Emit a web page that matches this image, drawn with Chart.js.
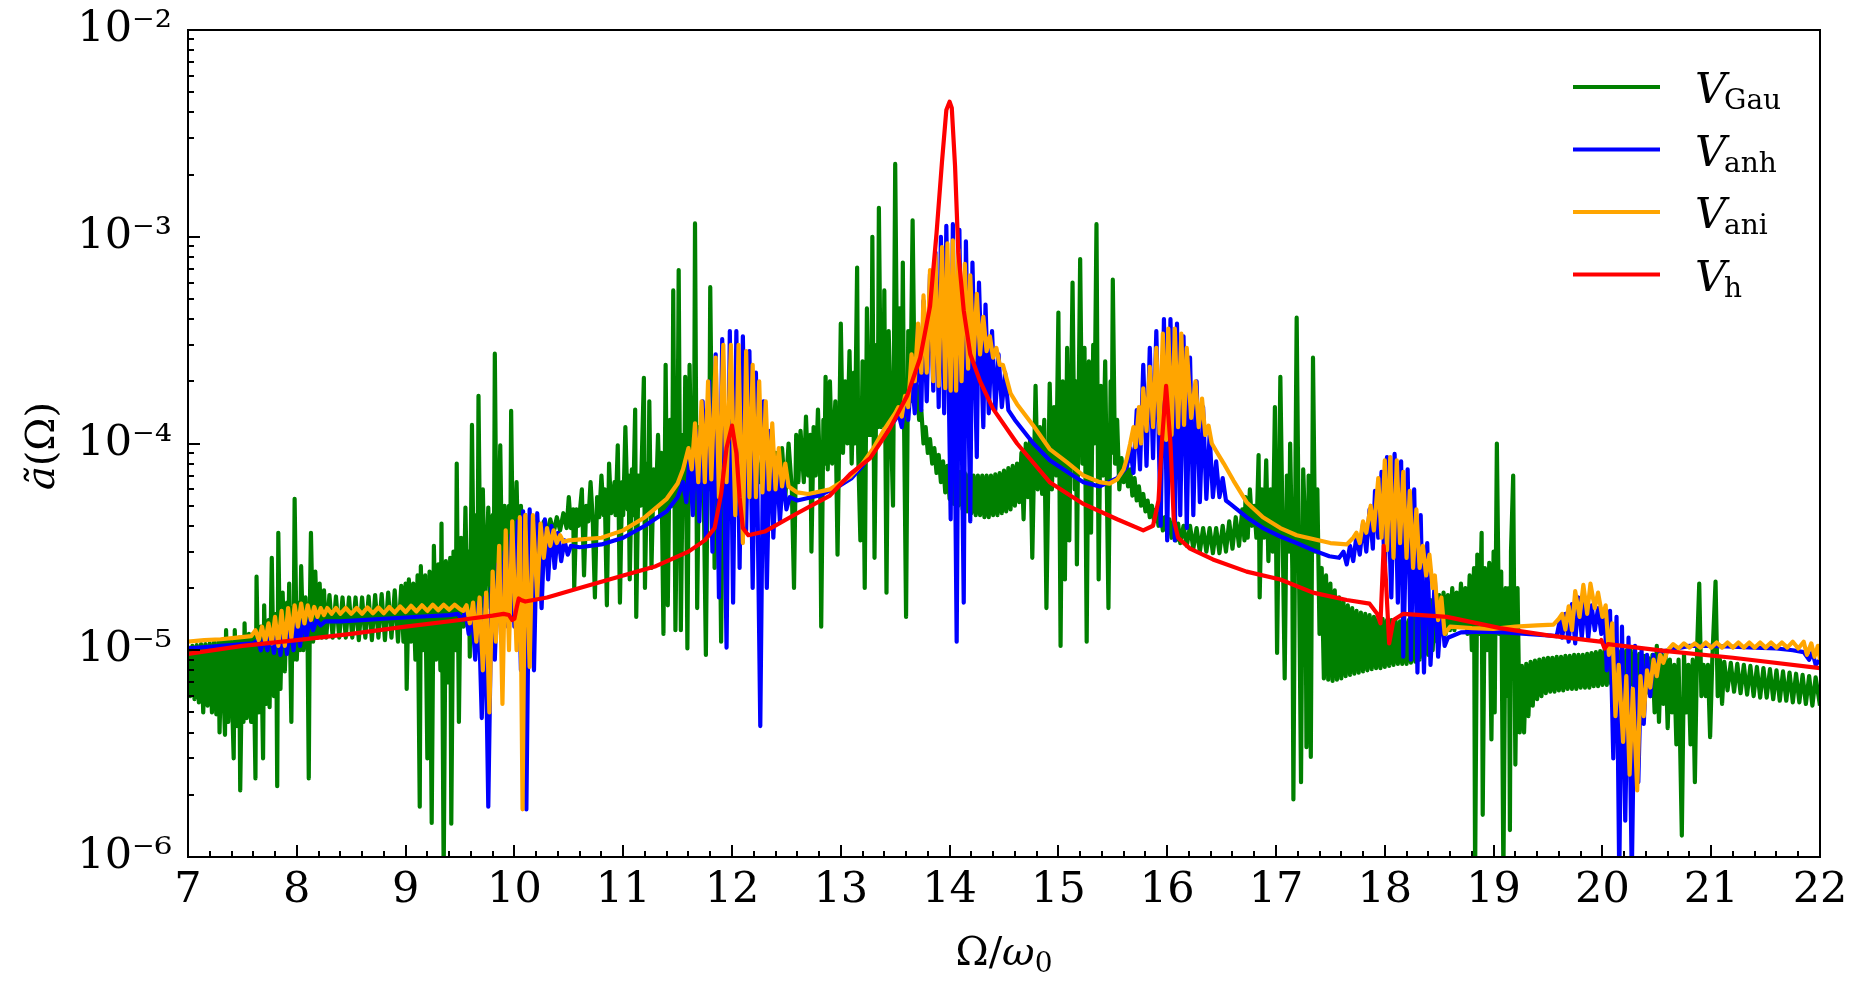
<!DOCTYPE html>
<html><head><meta charset="utf-8">
<script src="https://cdn.jsdelivr.net/npm/chart.js@4.4.1/dist/chart.umd.min.js"></script>
<style>html,body{margin:0;padding:0;background:#fff;}#wrap{width:1861px;height:989px;}</style>
</head><body><div id="wrap"><canvas id="c" width="1861" height="989"></canvas></div>
<script>
// ---------- tick labels / categories ----------
const xMajorTicks = [7,8,9,10,11,12,13,14,15,16,17,18,19,20,21,22];
const xTickLabels = ['7','8','9','10','11','12','13','14','15','16','17','18','19','20','21','22'];
const xMinorPerMajor = 5;
const yMajorTicks = [1e-6,1e-5,1e-4,1e-3,1e-2];
const yTickLabels = ['10\u207B\u2076','10\u207B\u2075','10\u207B\u2074','10\u207B\u00B3','10\u207B\u00B2'];
const seriesBase = 'V';
const seriesSub = ['Gau','anh','ani','h'];
const seriesColors = ['#008000','#0000ff','#ffa500','#ff0000'];

// ---------- series values [Omega/omega0, a(Omega)] ----------
const gauPts = [[7,1.05e-5],[7.02,6e-6],[7.04,1.05e-5],[7.06,5.8e-6],[7.08,1.06e-5],[7.1,5.6e-6],[7.12,1.07e-5],[7.14,5e-6],[7.16,1.07e-5],[7.18,5.4e-6],[7.2,1.08e-5],[7.22,5e-6],[7.24,1.1e-5],[7.26,4.9e-6],[7.28,1.1e-5],[7.29,4e-6],[7.31,1.12e-5],[7.34,3.9e-6],[7.35,1.25e-5],[7.37,4.5e-6],[7.39,1.12e-5],[7.42,3e-6],[7.43,1.25e-5],[7.45,4.3e-6],[7.47,1.15e-5],[7.48,2.1e-6],[7.5,1.15e-5],[7.51,4.5e-6],[7.52,1.35e-5],[7.54,4.7e-6],[7.56,1.2e-5],[7.58,4.5e-6],[7.6,1.2e-5],[7.62,2.4e-6],[7.63,2.27e-5],[7.65,5e-6],[7.67,1.3e-5],[7.69,3e-6],[7.7,1.65e-5],[7.72,5.5e-6],[7.74,1.4e-5],[7.75,5.3e-6],[7.77,2.8e-5],[7.79,6e-6],[7.81,1.5e-5],[7.82,2.2e-6],[7.83,3.7e-5],[7.85,6.5e-6],[7.87,1.9e-5],[7.89,7.9e-6],[7.91,1.7e-5],[7.92,1.1e-5],[7.93,2.1e-5],[7.95,4.5e-6],[7.96,1.6e-5],[7.97,9e-6],[7.98,5.4e-5],[8,9e-6],[8.02,1.7e-5],[8.03,1e-5],[8.04,2.55e-5],[8.06,1e-5],[8.08,1.8e-5],[8.1,1e-5],[8.11,2.4e-6],[8.12,1.6e-5],[8.13,3.7e-5],[8.15,1.1e-5],[8.17,2.4e-5],[8.19,1.15e-5],[8.21,2.1e-5],[8.23,1.15e-5],[8.25,1.95e-5],[8.27,1.15e-5],[8.3,1.85e-5],[8.33,1.15e-5],[8.36,1.82e-5],[8.39,1.15e-5],[8.42,1.8e-5],[8.45,1.15e-5],[8.48,1.8e-5],[8.51,1.15e-5],[8.54,1.8e-5],[8.57,1.12e-5],[8.6,1.8e-5],[8.63,1.15e-5],[8.66,1.82e-5],[8.69,1.12e-5],[8.72,1.85e-5],[8.75,1.15e-5],[8.78,1.87e-5],[8.81,1.12e-5],[8.84,1.9e-5],[8.87,1.15e-5],[8.9,1.95e-5],[8.93,1.1e-5],[8.96,2.05e-5],[8.98,1.1e-5],[9,2.1e-5],[9.01,6.5e-6],[9.03,2.2e-5],[9.05,1.1e-5],[9.07,2.1e-5],[9.09,9e-6],[9.11,2.3e-5],[9.13,1.75e-6],[9.14,2.55e-5],[9.16,1e-5],[9.18,2.3e-5],[9.2,3e-6],[9.22,2.4e-5],[9.24,1.46e-6],[9.26,3.2e-5],[9.28,9e-6],[9.3,2.6e-5],[9.32,8e-6],[9.33,4.1e-5],[9.35,8e-7],[9.37,2.7e-5],[9.39,7e-6],[9.41,2.8e-5],[9.42,1.45e-6],[9.44,3e-5],[9.46,1e-5],[9.47,8e-5],[9.49,4.5e-6],[9.51,3.5e-5],[9.53,1.3e-5],[9.55,4.9e-5],[9.57,1.3e-5],[9.58,3e-5],[9.59,9.3e-6],[9.61,1.23e-4],[9.63,1.4e-5],[9.65,4.5e-5],[9.66,1.5e-5],[9.67,1.7e-4],[9.69,1.5e-5],[9.71,6e-5],[9.73,1.6e-5],[9.76,4.9e-5],[9.78,1.6e-5],[9.8,4.5e-5],[9.81,1.7e-5],[9.82,2.72e-4],[9.84,1.7e-5],[9.87,9.8e-5],[9.89,1.7e-5],[9.91,5e-5],[9.93,1.8e-5],[9.95,5e-5],[9.96,2e-5],[9.97,1.44e-4],[9.99,2e-5],[10.02,6.5e-5],[10.04,2.2e-5],[10.06,5e-5],[10.08,2.5e-5],[10.1,4.5e-5],[10.12,3.2e-5],[10.15,4.4e-5],[10.18,3.5e-5],[10.21,4.2e-5],[10.24,3.6e-5],[10.27,4.2e-5],[10.3,3.7e-5],[10.33,4.3e-5],[10.36,3.7e-5],[10.39,4.4e-5],[10.42,3.8e-5],[10.45,4.6e-5],[10.48,3.9e-5],[10.5,5.5e-5],[10.52,3.9e-5],[10.54,4.8e-5],[10.55,2e-5],[10.57,4.8e-5],[10.59,4e-5],[10.62,6e-5],[10.64,2.3e-5],[10.66,5e-5],[10.68,4.2e-5],[10.7,6.5e-5],[10.72,4.3e-5],[10.74,1.8e-5],[10.76,5.5e-5],[10.78,4.4e-5],[10.8,7e-5],[10.82,4.5e-5],[10.83,6e-5],[10.85,1.65e-5],[10.87,8e-5],[10.89,4.6e-5],[10.92,6.5e-5],[10.93,4.5e-5],[10.95,9.8e-5],[10.97,1.7e-5],[10.99,6.5e-5],[11,4.5e-5],[11.02,1.2e-4],[11.04,4.8e-5],[11.05,7e-5],[11.06,2.2e-5],[11.08,7.5e-5],[11.09,4.5e-5],[11.11,1.46e-4],[11.12,1.45e-5],[11.14,7e-5],[11.16,5e-5],[11.19,2.08e-4],[11.2,2e-5],[11.22,8e-5],[11.23,4.5e-5],[11.24,1.6e-4],[11.26,2.5e-5],[11.28,7.5e-5],[11.3,5e-5],[11.32,1.1e-4],[11.34,4.5e-5],[11.35,9e-5],[11.37,1.2e-5],[11.39,2.4e-4],[11.41,1.65e-5],[11.43,1.3e-4],[11.45,5e-5],[11.46,5.5e-4],[11.48,1.25e-5],[11.5,1e-4],[11.51,6.9e-4],[11.53,1.25e-5],[11.55,1.1e-4],[11.56,5e-5],[11.57,2.1e-4],[11.59,1.02e-5],[11.61,2.4e-4],[11.63,5.5e-5],[11.64,1.3e-4],[11.65,6e-5],[11.66,1.16e-3],[11.68,1.6e-5],[11.7,1.2e-4],[11.71,6e-5],[11.73,1.46e-4],[11.76,9.5e-6],[11.78,1.3e-4],[11.79,6e-5],[11.8,5.7e-4],[11.82,6e-5],[11.83,1.2e-4],[11.84,2.5e-5],[11.86,1.3e-4],[11.87,7e-5],[11.88,1e-4],[11.9,1.1e-5],[11.92,1.1e-4],[11.95,6e-5],[11.98,1e-4],[12.01,6.5e-5],[12.04,1e-4],[12.07,6.5e-5],[12.1,9.5e-5],[12.13,6.5e-5],[12.16,9.5e-5],[12.19,6.5e-5],[12.22,9e-5],[12.25,6.5e-5],[12.28,9e-5],[12.31,6.3e-5],[12.34,8.8e-5],[12.37,6e-5],[12.4,9e-5],[12.43,6e-5],[12.46,9.5e-5],[12.49,5.5e-5],[12.52,1e-4],[12.55,6e-5],[12.57,2e-5],[12.59,1.1e-4],[12.61,6.5e-5],[12.63,1.15e-4],[12.66,6.5e-5],[12.68,1.35e-4],[12.7,7e-5],[12.72,1.1e-4],[12.73,3e-5],[12.75,1.2e-4],[12.77,7e-5],[12.79,1.46e-4],[12.81,7e-5],[12.82,1.3e-5],[12.84,1.3e-4],[12.85,8e-5],[12.86,2.1e-4],[12.88,7.5e-5],[12.9,2e-4],[12.92,8e-5],[12.95,1.6e-4],[12.97,2.9e-5],[13,3.8e-4],[13.02,9e-5],[13.04,2e-4],[13.06,1e-4],[13.08,2.8e-4],[13.1,8e-5],[13.12,2.2e-4],[13.13,1e-4],[13.15,7.1e-4],[13.16,9e-5],[13.18,3.4e-5],[13.2,2.5e-4],[13.22,2e-5],[13.24,4.5e-4],[13.26,1.1e-4],[13.27,2.5e-4],[13.28,1.1e-4],[13.29,1e-3],[13.31,2.8e-5],[13.33,3e-4],[13.34,1.2e-4],[13.35,1.38e-3],[13.37,1.2e-4],[13.38,3e-4],[13.39,1.3e-4],[13.4,5.5e-4],[13.42,1.9e-5],[13.44,3.5e-4],[13.46,1.3e-4],[13.48,5e-5],[13.5,2.25e-3],[13.52,1.5e-4],[13.54,4.5e-4],[13.56,1.4e-4],[13.57,7.5e-4],[13.58,1.5e-4],[13.6,1.45e-5],[13.62,3.5e-4],[13.64,1.6e-4],[13.66,1.2e-3],[13.68,1.6e-4],[13.7,1.9e-4],[13.72,1.3e-4],[13.74,1.45e-4],[13.76,1e-4],[13.78,1.2e-4],[13.8,9e-5],[13.82,1.05e-4],[13.84,8e-5],[13.86,9.5e-5],[13.88,7.2e-5],[13.9,8.8e-5],[13.92,6.5e-5],[13.94,8.2e-5],[13.96,5.8e-5],[13.98,7.8e-5],[14,5.4e-5],[14.02,7.6e-5],[14.04,5.1e-5],[14.06,7.4e-5],[14.08,5e-5],[14.1,7.3e-5],[14.12,4.8e-5],[14.14,7.2e-5],[14.16,4.7e-5],[14.18,7.1e-5],[14.2,4.6e-5],[14.22,7e-5],[14.24,4.5e-5],[14.26,7e-5],[14.28,4.5e-5],[14.3,7e-5],[14.32,4.4e-5],[14.34,7e-5],[14.36,4.4e-5],[14.38,7e-5],[14.4,4.5e-5],[14.42,7.1e-5],[14.44,4.5e-5],[14.46,7.2e-5],[14.48,4.6e-5],[14.5,7.4e-5],[14.52,4.7e-5],[14.54,7.6e-5],[14.56,4.8e-5],[14.58,7.8e-5],[14.6,5e-5],[14.62,8e-5],[14.64,5.2e-5],[14.66,9e-5],[14.68,4.3e-5],[14.7,1e-4],[14.72,5.5e-5],[14.74,1.05e-4],[14.76,2.8e-5],[14.79,1.9e-4],[14.81,6e-5],[14.83,1.2e-4],[14.85,5.7e-5],[14.87,1.3e-4],[14.89,1.6e-5],[14.92,1.95e-4],[14.94,6e-5],[14.96,1.5e-4],[14.98,7e-5],[15,4.3e-4],[15.02,1.05e-5],[15.04,2e-4],[15.06,2.2e-5],[15.08,2.9e-4],[15.1,3.4e-5],[15.13,6e-4],[15.15,6e-5],[15.16,2e-4],[15.17,2.6e-5],[15.2,7.8e-4],[15.22,8e-5],[15.24,2.9e-4],[15.26,1.1e-5],[15.28,2.5e-4],[15.3,3.7e-5],[15.32,3e-4],[15.33,1e-4],[15.35,1.15e-3],[15.37,2.2e-5],[15.39,1.9e-4],[15.41,7e-5],[15.43,2.5e-4],[15.46,1.6e-5],[15.48,2e-4],[15.49,9e-5],[15.5,6.2e-4],[15.52,8e-5],[15.54,1.3e-4],[15.56,6e-5],[15.58,8.5e-5],[15.6,6.5e-5],[15.62,8e-5],[15.64,6.2e-5],[15.66,7.5e-5],[15.68,5.6e-5],[15.7,6.8e-5],[15.72,5.3e-5],[15.74,6.2e-5],[15.76,5e-5],[15.78,5.7e-5],[15.8,4.7e-5],[15.82,5.3e-5],[15.84,4.4e-5],[15.86,5e-5],[15.88,4.2e-5],[15.9,4.8e-5],[15.92,4e-5],[15.94,4.6e-5],[15.96,3.8e-5],[15.98,4.4e-5],[16,3.7e-5],[16.02,4.3e-5],[16.04,3.5e-5],[16.06,4.2e-5],[16.08,3.4e-5],[16.1,4.1e-5],[16.12,3.3e-5],[16.15,4e-5],[16.18,3.2e-5],[16.21,4e-5],[16.24,3.1e-5],[16.27,3.9e-5],[16.3,3e-5],[16.33,3.9e-5],[16.36,3e-5],[16.39,3.9e-5],[16.42,2.95e-5],[16.45,3.9e-5],[16.48,2.95e-5],[16.51,4e-5],[16.54,3e-5],[16.57,4.2e-5],[16.6,3.1e-5],[16.63,4.4e-5],[16.66,3.2e-5],[16.69,4.8e-5],[16.71,3.4e-5],[16.72,5.5e-5],[16.74,3.5e-5],[16.76,6e-5],[16.78,4e-5],[16.8,5e-5],[16.82,3.5e-5],[16.84,8.8e-5],[16.85,1.8e-5],[16.87,6e-5],[16.89,3.5e-5],[16.91,8.3e-5],[16.93,2.7e-5],[16.95,6e-5],[16.97,3e-5],[16.99,1.5e-4],[17.01,9.7e-6],[17.04,2.1e-4],[17.06,4e-5],[17.08,7.3e-6],[17.1,7e-5],[17.12,3e-5],[17.13,1e-4],[17.15,2.5e-5],[17.16,1.9e-6],[17.18,9e-5],[17.19,4.06e-4],[17.21,3e-5],[17.23,2.3e-6],[17.25,7.5e-5],[17.27,3.5e-5],[17.28,3.4e-6],[17.3,7e-5],[17.32,3.05e-6],[17.34,2.6e-4],[17.36,3e-5],[17.38,6e-5],[17.4,1.2e-5],[17.42,2.5e-5],[17.44,7.3e-6],[17.46,2.3e-5],[17.48,7.2e-6],[17.5,2.1e-5],[17.52,7.1e-6],[17.54,1.95e-5],[17.56,7.2e-6],[17.58,1.8e-5],[17.6,7.3e-6],[17.62,1.72e-5],[17.64,7.5e-6],[17.66,1.65e-5],[17.68,7.6e-6],[17.7,1.6e-5],[17.72,7.7e-6],[17.74,1.55e-5],[17.76,7.8e-6],[17.78,1.52e-5],[17.8,7.9e-6],[17.82,1.5e-5],[17.84,8e-6],[17.86,1.48e-5],[17.88,8.1e-6],[17.9,1.45e-5],[17.92,8.2e-6],[17.94,1.43e-5],[17.96,8.2e-6],[17.98,1.42e-5],[18,8.3e-6],[18.02,1.4e-5],[18.04,8.4e-6],[18.06,1.4e-5],[18.08,8.5e-6],[18.1,1.38e-5],[18.12,8.6e-6],[18.14,1.38e-5],[18.16,8.6e-6],[18.18,1.38e-5],[18.2,8.6e-6],[18.22,1.4e-5],[18.24,8.7e-6],[18.26,1.45e-5],[18.28,8.8e-6],[18.3,1.5e-5],[18.32,9e-6],[18.34,1.6e-5],[18.36,9.2e-6],[18.38,1.7e-5],[18.4,9.5e-6],[18.42,1.75e-5],[18.44,1e-5],[18.46,1.8e-5],[18.48,1.1e-5],[18.5,1.85e-5],[18.52,1.2e-5],[18.54,1.9e-5],[18.56,1.2e-5],[18.58,1.85e-5],[18.6,1.25e-5],[18.62,2e-5],[18.64,1.25e-5],[18.66,1.9e-5],[18.68,1.3e-5],[18.7,2.1e-5],[18.72,1.3e-5],[18.74,2e-5],[18.76,1.2e-5],[18.78,2.3e-5],[18.8,1e-5],[18.82,2.5e-5],[18.83,8e-7],[18.85,2.9e-5],[18.87,1.2e-5],[18.89,3.7e-5],[18.9,1.6e-6],[18.92,2.5e-5],[18.94,1e-5],[18.96,2.65e-5],[18.98,3.7e-6],[19,3e-5],[19.01,5e-6],[19.03,1e-4],[19.05,1.2e-5],[19.07,2.4e-5],[19.09,8e-7],[19.11,2e-5],[19.13,6e-6],[19.14,2e-5],[19.15,1.35e-6],[19.16,3e-5],[19.18,7e-5],[19.2,2.8e-6],[19.22,2e-5],[19.24,4e-6],[19.26,8.4e-6],[19.28,4e-6],[19.3,8.6e-6],[19.32,4.8e-6],[19.34,8.8e-6],[19.36,5.4e-6],[19.38,8.9e-6],[19.4,5.8e-6],[19.42,9e-6],[19.44,6e-6],[19.46,9.1e-6],[19.48,6.2e-6],[19.5,9.2e-6],[19.52,6.3e-6],[19.54,9.2e-6],[19.56,6.3e-6],[19.58,9.3e-6],[19.6,6.4e-6],[19.62,9.3e-6],[19.64,6.4e-6],[19.66,9.4e-6],[19.68,6.5e-6],[19.7,9.4e-6],[19.72,6.5e-6],[19.74,9.5e-6],[19.76,6.5e-6],[19.78,9.5e-6],[19.8,6.6e-6],[19.82,9.5e-6],[19.84,6.6e-6],[19.86,9.6e-6],[19.88,6.6e-6],[19.9,9.7e-6],[19.92,6.7e-6],[19.94,9.8e-6],[19.96,6.7e-6],[19.98,9.9e-6],[20,6.8e-6],[20.02,1e-5],[20.04,6.8e-6],[20.06,1e-5],[20.08,6.9e-6],[20.1,1e-5],[20.12,6.9e-6],[20.14,1e-5],[20.16,6.9e-6],[20.18,1e-5],[20.2,6.9e-6],[20.22,1e-5],[20.24,6.9e-6],[20.26,1e-5],[20.28,6.8e-6],[20.3,9.8e-6],[20.32,6.6e-6],[20.34,9.6e-6],[20.36,6.4e-6],[20.38,9.4e-6],[20.4,6.2e-6],[20.42,9.2e-6],[20.44,6e-6],[20.46,9.5e-6],[20.48,5e-6],[20.5,1.05e-5],[20.52,4.5e-6],[20.54,1e-5],[20.56,5.5e-6],[20.58,9.5e-6],[20.6,4.2e-6],[20.62,9e-6],[20.64,5e-6],[20.66,8.5e-6],[20.68,3.5e-6],[20.7,9e-6],[20.73,1.27e-6],[20.75,9.5e-6],[20.77,5e-6],[20.79,8.5e-6],[20.81,3.5e-6],[20.83,9e-6],[20.85,2.3e-6],[20.87,1e-5],[20.89,2.1e-5],[20.91,6e-6],[20.93,8.5e-6],[20.95,6e-6],[20.97,8.5e-6],[20.99,3.8e-6],[21.01,9e-6],[21.04,2.15e-5],[21.06,6e-6],[21.08,9e-6],[21.1,5.5e-6],[21.12,8.8e-6],[21.15,6.4e-6],[21.18,8.7e-6],[21.21,6.3e-6],[21.24,8.6e-6],[21.27,6.2e-6],[21.3,8.5e-6],[21.33,6.1e-6],[21.36,8.4e-6],[21.39,6e-6],[21.42,8.3e-6],[21.45,5.9e-6],[21.48,8.2e-6],[21.51,5.9e-6],[21.54,8.1e-6],[21.57,5.8e-6],[21.6,8e-6],[21.63,5.7e-6],[21.66,7.9e-6],[21.69,5.7e-6],[21.72,7.8e-6],[21.75,5.6e-6],[21.78,7.7e-6],[21.81,5.6e-6],[21.84,7.6e-6],[21.87,5.5e-6],[21.9,7.5e-6],[21.93,5.4e-6],[21.96,7.4e-6],[22,5.4e-6]];

const anhPts = [[7,1.02e-5],[7.1,1.03e-5],[7.2,1.04e-5],[7.3,1.05e-5],[7.4,1.06e-5],[7.5,1.07e-5],[7.6,1.08e-5],[7.64,1.12e-5],[7.67,1e-5],[7.7,1.15e-5],[7.73,1e-5],[7.76,1.2e-5],[7.79,9.7e-6],[7.82,1.25e-5],[7.85,9.5e-6],[7.88,1.3e-5],[7.91,9.6e-6],[7.94,1.35e-5],[7.97,1e-5],[8,1.38e-5],[8.03,1.05e-5],[8.06,1.4e-5],[8.09,1.15e-5],[8.12,1.42e-5],[8.15,1.25e-5],[8.18,1.4e-5],[8.22,1.32e-5],[8.26,1.38e-5],[8.4,1.38e-5],[8.6,1.4e-5],[8.8,1.42e-5],[9,1.44e-5],[9.2,1.46e-5],[9.4,1.48e-5],[9.48,1.5e-5],[9.52,1.4e-5],[9.55,1.55e-5],[9.58,1.2e-5],[9.61,1.55e-5],[9.64,9e-6],[9.67,1.7e-5],[9.7,4.7e-6],[9.73,1.8e-5],[9.76,1.75e-6],[9.79,2e-5],[9.82,9e-6],[9.85,2.6e-5],[9.88,1.1e-5],[9.91,3e-5],[9.94,1.3e-5],[9.97,3.6e-5],[10,1.3e-5],[10.03,4.2e-5],[10.06,8e-6],[10.08,4.7e-5],[10.11,1.7e-6],[10.14,4.8e-5],[10.18,8e-6],[10.21,4.6e-5],[10.25,1.6e-5],[10.28,4.3e-5],[10.31,2.2e-5],[10.34,4e-5],[10.37,2.5e-5],[10.4,3.7e-5],[10.43,2.7e-5],[10.46,3.4e-5],[10.49,2.9e-5],[10.52,3.2e-5],[10.6,3.15e-5],[10.8,3.25e-5],[11,3.5e-5],[11.2,4e-5],[11.4,4.7e-5],[11.5,5.5e-5],[11.55,6.5e-5],[11.58,5.2e-5],[11.61,8.5e-5],[11.64,4.5e-5],[11.67,1.15e-4],[11.7,4.2e-5],[11.73,1.6e-4],[11.76,3.5e-5],[11.79,2e-4],[11.82,3e-5],[11.85,2.7e-4],[11.88,1.8e-5],[11.91,3.2e-4],[11.95,1.03e-5],[11.98,3.5e-4],[12.01,1.7e-5],[12.04,3.5e-4],[12.07,2.5e-5],[12.1,3.3e-4],[12.13,3.8e-5],[12.16,2.8e-4],[12.19,2e-5],[12.22,2.2e-4],[12.26,4.3e-6],[12.29,1.6e-4],[12.32,2e-5],[12.35,1.15e-4],[12.38,3.5e-5],[12.41,8.5e-5],[12.44,4.2e-5],[12.47,7e-5],[12.5,4.8e-5],[12.53,5.5e-5],[12.6,5.3e-5],[12.8,5.6e-5],[13,6.3e-5],[13.1,6.8e-5],[13.2,7.8e-5],[13.3,9.3e-5],[13.4,1.13e-4],[13.5,1.3e-4],[13.53,1.4e-4],[13.56,1.2e-4],[13.59,1.6e-4],[13.62,1.3e-4],[13.65,2.2e-4],[13.68,1.4e-4],[13.71,3.7e-4],[13.74,1.45e-4],[13.76,4.9e-4],[13.79,1.6e-4],[13.82,6.6e-4],[13.85,1.8e-4],[13.87,8.4e-4],[13.9,1.5e-4],[13.92,1e-3],[13.95,1.4e-4],[13.97,1.13e-3],[14.01,4.3e-5],[14.03,1.15e-3],[14.065,1.1e-5],[14.09,1.08e-3],[14.13,1.7e-5],[14.15,9.5e-4],[14.19,4.2e-5],[14.21,7.5e-4],[14.25,8.6e-5],[14.27,6e-4],[14.31,1.2e-4],[14.33,4.7e-4],[14.36,1.4e-4],[14.39,3.5e-4],[14.42,1.45e-4],[14.45,2.7e-4],[14.48,1.5e-4],[14.51,2.2e-4],[14.54,1.45e-4],[14.6,1.3e-4],[14.77,1e-4],[14.92,8.3e-5],[15.08,7.3e-5],[15.23,6.5e-5],[15.38,6.2e-5],[15.54,6.8e-5],[15.63,7.7e-5],[15.66,9.5e-5],[15.69,7.2e-5],[15.72,1.45e-4],[15.75,7.5e-5],[15.78,2.4e-4],[15.81,7.8e-5],[15.84,2.9e-4],[15.87,8.5e-5],[15.9,3.5e-4],[15.94,4e-5],[15.97,4e-4],[16,3.4e-5],[16.03,4e-4],[16.07,3.4e-5],[16.09,3.8e-4],[16.12,4.5e-5],[16.15,3.3e-4],[16.18,3.9e-5],[16.21,2.6e-4],[16.24,4.5e-5],[16.27,2e-4],[16.3,5.2e-5],[16.33,1.5e-4],[16.36,5.4e-5],[16.39,1.1e-4],[16.42,5.5e-5],[16.45,8.2e-5],[16.48,5.5e-5],[16.51,6.8e-5],[16.54,5.3e-5],[16.58,5.1e-5],[16.73,4.4e-5],[16.88,3.9e-5],[17.04,3.55e-5],[17.19,3.3e-5],[17.34,3.05e-5],[17.49,2.85e-5],[17.58,2.8e-5],[17.62,3e-5],[17.65,2.6e-5],[17.68,3.2e-5],[17.71,2.7e-5],[17.74,3.6e-5],[17.77,2.9e-5],[17.8,4.1e-5],[17.83,3e-5],[17.86,4.8e-5],[17.89,3.1e-5],[17.91,5.9e-5],[17.94,3.5e-5],[17.97,7.3e-5],[18,2.2e-5],[18.02,8.6e-5],[18.06,1.8e-5],[18.09,8.9e-5],[18.12,1.7e-5],[18.15,8.2e-5],[18.17,9.3e-6],[18.21,7.5e-5],[18.24,9e-6],[18.27,6e-5],[18.3,7.8e-6],[18.33,4.5e-5],[18.36,7.8e-6],[18.39,3.3e-5],[18.42,8.5e-6],[18.46,2.2e-5],[18.49,9.3e-6],[18.52,1.6e-5],[18.55,1.05e-5],[18.58,1.15e-5],[18.7,1.22e-5],[18.9,1.23e-5],[19.1,1.22e-5],[19.3,1.2e-5],[19.5,1.18e-5],[19.58,1.17e-5],[19.61,1.4e-5],[19.63,1.15e-5],[19.66,1.5e-5],[19.69,1.1e-5],[19.72,1.67e-5],[19.75,1.08e-5],[19.78,1.8e-5],[19.81,1.15e-5],[19.84,1.75e-5],[19.87,1.15e-5],[19.9,1.65e-5],[19.93,1.25e-5],[19.96,1.6e-5],[19.99,1.2e-5],[20.02,1.55e-5],[20.04,8e-6],[20.07,1.55e-5],[20.1,3e-6],[20.13,1.45e-5],[20.155,8e-7],[20.18,1.3e-5],[20.21,1.5e-6],[20.24,1.15e-5],[20.27,8e-7],[20.3,1.05e-5],[20.33,2.3e-6],[20.36,1e-5],[20.38,4.4e-6],[20.41,9.5e-6],[20.44,6e-6],[20.47,9.5e-6],[20.5,7.5e-6],[20.53,9.8e-6],[20.6,1e-5],[20.8,1.05e-5],[21,1.05e-5],[21.2,1.04e-5],[21.4,1.03e-5],[21.6,1.02e-5],[21.75,1e-5],[21.85,9.8e-6],[21.9,9e-6],[21.93,9.8e-6],[21.96,8.5e-6],[22,9e-6]];

const aniPts = [[7,1.1e-5],[7.15,1.12e-5],[7.3,1.13e-5],[7.45,1.15e-5],[7.58,1.17e-5],[7.62,1.25e-5],[7.65,1.12e-5],[7.68,1.3e-5],[7.71,1.1e-5],[7.74,1.35e-5],[7.77,1.08e-5],[7.8,1.45e-5],[7.83,1.05e-5],[7.86,1.55e-5],[7.89,1.05e-5],[7.92,1.6e-5],[7.95,1.15e-5],[7.98,1.65e-5],[8.01,1.3e-5],[8.04,1.68e-5],[8.07,1.35e-5],[8.1,1.65e-5],[8.13,1.4e-5],[8.16,1.62e-5],[8.19,1.45e-5],[8.22,1.6e-5],[8.25,1.48e-5],[8.28,1.6e-5],[8.32,1.5e-5],[8.36,1.6e-5],[8.4,1.5e-5],[8.45,1.6e-5],[8.5,1.5e-5],[8.55,1.6e-5],[8.6,1.5e-5],[8.65,1.61e-5],[8.7,1.51e-5],[8.75,1.61e-5],[8.8,1.51e-5],[8.85,1.62e-5],[8.9,1.52e-5],[8.95,1.63e-5],[9,1.53e-5],[9.05,1.64e-5],[9.1,1.54e-5],[9.15,1.65e-5],[9.2,1.55e-5],[9.25,1.66e-5],[9.3,1.56e-5],[9.35,1.66e-5],[9.4,1.57e-5],[9.45,1.66e-5],[9.5,1.58e-5],[9.53,1.55e-5],[9.56,1.65e-5],[9.59,1.35e-5],[9.62,1.7e-5],[9.65,1.1e-5],[9.68,1.8e-5],[9.71,8e-6],[9.74,1.9e-5],[9.77,5e-6],[9.8,2.4e-5],[9.83,1.1e-5],[9.86,3.2e-5],[9.89,5.5e-6],[9.92,3.8e-5],[9.95,1e-5],[9.98,4.2e-5],[10.02,1e-5],[10.05,4.4e-5],[10.075,1.7e-6],[10.1,4.5e-5],[10.14,8.3e-6],[10.17,4.5e-5],[10.21,1.8e-5],[10.24,4.1e-5],[10.27,2.8e-5],[10.3,3.9e-5],[10.33,3.2e-5],[10.36,3.8e-5],[10.39,3.3e-5],[10.42,3.6e-5],[10.45,3.35e-5],[10.5,3.4e-5],[10.8,3.5e-5],[11,3.8e-5],[11.2,4.4e-5],[11.4,5.4e-5],[11.5,6.4e-5],[11.55,7.5e-5],[11.6,9.5e-5],[11.63,7.5e-5],[11.66,1.25e-4],[11.69,6.5e-5],[11.72,1.6e-4],[11.75,6.5e-5],[11.78,2e-4],[11.81,6.7e-5],[11.85,2.6e-4],[11.88,5.5e-5],[11.92,3e-4],[11.95,6.5e-5],[11.99,3e-4],[12.03,4.5e-5],[12.06,3e-4],[12.1,3.3e-5],[12.13,2.8e-4],[12.16,5.5e-5],[12.19,2.4e-4],[12.22,5.5e-5],[12.25,2e-4],[12.28,5.8e-5],[12.31,1.6e-4],[12.34,6e-5],[12.37,1.25e-4],[12.4,6e-5],[12.43,9.5e-5],[12.46,6.2e-5],[12.49,8e-5],[12.52,6.2e-5],[12.6,5.8e-5],[12.7,5.7e-5],[12.9,6e-5],[13.085,6.9e-5],[13.2,8e-5],[13.3,9.5e-5],[13.4,1.17e-4],[13.5,1.4e-4],[13.53,1.5e-4],[13.56,1.35e-4],[13.59,1.7e-4],[13.62,1.5e-4],[13.65,2.7e-4],[13.68,2e-4],[13.71,3.8e-4],[13.74,2.2e-4],[13.76,5.2e-4],[13.79,2.2e-4],[13.82,6.9e-4],[13.85,2e-4],[13.87,8.2e-4],[13.9,1.9e-4],[13.93,8.9e-4],[13.96,1.85e-4],[13.98,9.3e-4],[14.01,1.8e-4],[14.03,9.6e-4],[14.06,1.8e-4],[14.08,8.7e-4],[14.11,2e-4],[14.14,7.4e-4],[14.17,2.3e-4],[14.19,6.5e-4],[14.22,2.5e-4],[14.25,5.3e-4],[14.28,2.7e-4],[14.31,4.1e-4],[14.34,2.8e-4],[14.37,3.3e-4],[14.4,2.6e-4],[14.43,2.9e-4],[14.46,2.4e-4],[14.49,2.4e-4],[14.56,1.75e-4],[14.62,1.55e-4],[14.77,1.22e-4],[14.92,9.4e-5],[15.08,8.1e-5],[15.23,7e-5],[15.38,6.5e-5],[15.47,6.4e-5],[15.54,6.7e-5],[15.6,7.5e-5],[15.63,8.5e-5],[15.66,1e-4],[15.69,1.2e-4],[15.71,9.6e-5],[15.74,1.5e-4],[15.76,1e-4],[15.78,1.85e-4],[15.81,1.15e-4],[15.84,2.35e-4],[15.87,1.2e-4],[15.9,2.9e-4],[15.93,1.12e-4],[15.96,3.4e-4],[15.99,1.04e-4],[16.01,3.6e-4],[16.04,1.1e-4],[16.07,3.6e-4],[16.1,1.2e-4],[16.13,3.4e-4],[16.155,1.23e-4],[16.18,2.9e-4],[16.22,1.33e-4],[16.26,2e-4],[16.29,1.2e-4],[16.32,1.65e-4],[16.35,1.1e-4],[16.38,1.22e-4],[16.41,1e-4],[16.45,9.2e-5],[16.52,8e-5],[16.61,6.6e-5],[16.73,5.2e-5],[16.88,4.4e-5],[17.04,3.9e-5],[17.19,3.6e-5],[17.34,3.45e-5],[17.5,3.3e-5],[17.65,3.25e-5],[17.71,3.5e-5],[17.74,3.7e-5],[17.77,3.3e-5],[17.8,4.2e-5],[17.83,3.7e-5],[17.87,5e-5],[17.9,3.8e-5],[17.94,6.8e-5],[17.97,3.5e-5],[18,8.3e-5],[18.02,3.05e-5],[18.05,8.6e-5],[18.08,2.8e-5],[18.11,8.3e-5],[18.14,3.3e-5],[18.17,7.3e-5],[18.2,2.8e-5],[18.23,5.9e-5],[18.26,2.5e-5],[18.29,4.8e-5],[18.32,2.5e-5],[18.35,3.2e-5],[18.38,2.3e-5],[18.41,2.9e-5],[18.44,2e-5],[18.46,2.3e-5],[18.49,1.4e-5],[18.52,1.8e-5],[18.55,1.2e-5],[18.6,1.3e-5],[18.8,1.28e-5],[19,1.27e-5],[19.2,1.3e-5],[19.4,1.32e-5],[19.55,1.33e-5],[19.6,1.42e-5],[19.63,1.5e-5],[19.66,1.26e-5],[19.69,1.63e-5],[19.72,1.25e-5],[19.75,1.93e-5],[19.79,1.45e-5],[19.825,2.07e-5],[19.86,1.5e-5],[19.89,2.1e-5],[19.93,1.6e-5],[19.96,1.9e-5],[20,1.45e-5],[20.03,1.65e-5],[20.06,9.5e-6],[20.09,1.35e-5],[20.12,4.8e-6],[20.15,8.5e-6],[20.19,3.6e-6],[20.22,7.5e-6],[20.25,2.5e-6],[20.28,6.5e-6],[20.32,2.1e-6],[20.35,7.5e-6],[20.38,4.8e-6],[20.41,8e-6],[20.44,6.6e-6],[20.47,9e-6],[20.5,7.5e-6],[20.53,9.5e-6],[20.56,8.7e-6],[20.6,1e-5],[20.65,1.07e-5],[20.7,1.02e-5],[20.75,1.08e-5],[20.8,1.03e-5],[20.85,1.08e-5],[20.9,1.03e-5],[20.95,1.09e-5],[21,1.03e-5],[21.05,1.09e-5],[21.1,1.03e-5],[21.15,1.09e-5],[21.2,1.03e-5],[21.25,1.09e-5],[21.3,1.03e-5],[21.35,1.09e-5],[21.4,1.03e-5],[21.45,1.09e-5],[21.5,1.03e-5],[21.55,1.09e-5],[21.6,1.03e-5],[21.65,1.09e-5],[21.7,1.03e-5],[21.75,1.1e-5],[21.8,1.02e-5],[21.85,1.1e-5],[21.88,9.5e-6],[21.92,1.08e-5],[21.95,9.3e-6],[21.98,1.05e-5],[22,9e-6]];

const hPts = [[7,9.6e-6],[7.5,1.05e-5],[8,1.12e-5],[8.5,1.2e-5],[9,1.3e-5],[9.5,1.4e-5],[9.8,1.47e-5],[9.9,1.5e-5],[9.95,1.48e-5],[9.98,1.4e-5],[10,1.42e-5],[10.02,1.6e-5],[10.04,1.78e-5],[10.06,1.75e-5],[10.1,1.72e-5],[10.3,1.8e-5],[10.6,2e-5],[11,2.3e-5],[11.3,2.55e-5],[11.6,3e-5],[11.75,3.4e-5],[11.84,3.9e-5],[11.9,5.7e-5],[11.95,9.5e-5],[12,1.22e-4],[12.04,9e-5],[12.07,5.5e-5],[12.1,3.9e-5],[12.15,3.6e-5],[12.3,3.75e-5],[12.6,4.6e-5],[12.9,5.6e-5],[13.085,7.1e-5],[13.27,8.5e-5],[13.45,1.18e-4],[13.61,1.7e-4],[13.73,2.6e-4],[13.82,4.6e-4],[13.88,1.04e-3],[13.93,2.3e-3],[13.97,4.1e-3],[14,4.5e-3],[14.02,4.2e-3],[14.05,2.2e-3],[14.08,8.4e-4],[14.13,4.4e-4],[14.19,2.7e-4],[14.28,2e-4],[14.4,1.47e-4],[14.62,1e-4],[14.92,6.5e-5],[15.23,5.1e-5],[15.54,4.3e-5],[15.78,3.8e-5],[15.87,4e-5],[15.92,5.3e-5],[15.95,1e-4],[15.99,1.9e-4],[16.03,1e-4],[16.06,4.3e-5],[16.1,3.5e-5],[16.21,3.1e-5],[16.42,2.75e-5],[16.73,2.4e-5],[17.04,2.2e-5],[17.34,1.9e-5],[17.65,1.75e-5],[17.86,1.68e-5],[17.93,1.5e-5],[17.96,1.35e-5],[17.99,3.2e-5],[18.01,2.2e-5],[18.04,1.08e-5],[18.08,1.4e-5],[18.17,1.5e-5],[18.57,1.45e-5],[19.06,1.28e-5],[19.5,1.18e-5],[19.98,1.1e-5],[19.99,1.12e-5],[20.02,1.02e-5],[20.05,1.07e-5],[20.59,9.9e-6],[21.2,9.2e-6],[22,8.2e-6]];

// ---------- chart ----------
const seriesPts = [gauPts, anhPts, aniPts, hPts];
const datasets = seriesPts.map((pts, i) => ({
  label: seriesBase + '_' + seriesSub[i],
  data: pts.map(p => ({x: p[0], y: p[1]})),
  borderColor: seriesColors[i],
  backgroundColor: seriesColors[i],
  borderWidth: 4.2,
  borderJoinStyle: 'round',
  pointRadius: 0,
  pointHoverRadius: 0,
  tension: 0,
  fill: false,
  clip: 0,
  order: seriesPts.length - 1 - i
}));

const SERIF = '"DejaVu Serif", serif';

function drawParts(ctx, parts, x, y) {
  let w = 0;
  parts.forEach(p => { ctx.font = p.font; p.w = ctx.measureText(p.t).width; w += p.w; });
  let cx = x - w / 2;
  parts.forEach(p => { ctx.font = p.font; ctx.fillText(p.t, cx, y + (p.dy || 0)); cx += p.w; });
}

const decor = {
  id: 'decor',
  afterDraw(chart) {
    const {ctx, chartArea: a, scales} = chart;
    const xs = scales.x, ys = scales.y;
    ctx.save();
    ctx.strokeStyle = '#000';
    ctx.lineWidth = 2;
    ctx.beginPath();
    for (let j = 0; j < xMajorTicks.length; j++) {
      const v = xMajorTicks[j];
      const px = Math.round(xs.getPixelForValue(v));
      ctx.moveTo(px, a.bottom); ctx.lineTo(px, a.bottom - 12);
      if (j < xMajorTicks.length - 1) {
        const step = (xMajorTicks[j + 1] - v) / xMinorPerMajor;
        for (let k = 1; k < xMinorPerMajor; k++) {
          const mx = Math.round(xs.getPixelForValue(v + k * step));
          ctx.moveTo(mx, a.bottom); ctx.lineTo(mx, a.bottom - 6);
        }
      }
    }
    for (let j = 0; j < yMajorTicks.length; j++) {
      const v = yMajorTicks[j];
      const py = Math.round(ys.getPixelForValue(v));
      ctx.moveTo(a.left, py); ctx.lineTo(a.left + 12, py);
      if (j < yMajorTicks.length - 1) {
        for (let k = 2; k <= 9; k++) {
          const my = Math.round(ys.getPixelForValue(v * k));
          ctx.moveTo(a.left, my); ctx.lineTo(a.left + 6, my);
        }
      }
    }
    ctx.stroke();
    ctx.strokeRect(a.left, a.top, a.right - a.left, a.bottom - a.top);

    // axis titles
    ctx.fillStyle = '#000';
    ctx.textBaseline = 'alphabetic';
    drawParts(ctx, [
      {t: '\u03A9', font: '40px ' + SERIF},
      {t: '/', font: '40px ' + SERIF},
      {t: '\u03C9', font: 'italic 40px ' + SERIF},
      {t: '0', font: '28px ' + SERIF, dy: 7}
    ], (a.left + a.right) / 2, 965);
    ctx.save();
    ctx.translate(42, 446);
    ctx.rotate(-Math.PI / 2);
    drawParts(ctx, [
      {t: '\u00E3', font: 'italic 40px ' + SERIF},
      {t: '(\u03A9)', font: '40px ' + SERIF}
    ], 0, 12);
    ctx.restore();

    // legend
    const lx1 = a.right - 247, lx2 = a.right - 160, tx = a.right - 125;
    for (let i = 0; i < seriesSub.length; i++) {
      const ly = a.top + 57 + i * 62.5;
      ctx.strokeStyle = seriesColors[i];
      ctx.lineWidth = 4;
      ctx.beginPath(); ctx.moveTo(lx1, ly); ctx.lineTo(lx2, ly); ctx.stroke();
      ctx.font = 'italic 43px ' + SERIF;
      ctx.fillText(seriesBase, tx, ly + 16);
      const wv = ctx.measureText(seriesBase).width;
      ctx.font = '28px ' + SERIF;
      ctx.fillText(seriesSub[i], tx + wv - 2, ly + 22);
    }
    ctx.restore();
  }
};

new Chart(document.getElementById('c'), {
  type: 'line',
  data: {datasets},
  options: {
    responsive: false,
    devicePixelRatio: 1,
    animation: false,
    events: [],
    layout: {padding: {top: 30, right: 41, bottom: 0, left: 0}},
    plugins: {legend: {display: false}, tooltip: {enabled: false}},
    scales: {
      x: {
        type: 'linear', min: 7, max: 22,
        grid: {display: false, drawTicks: false},
        border: {display: false},
        afterBuildTicks: s => { s.ticks = xMajorTicks.map(v => ({value: v})); },
        afterFit: s => { s.height = 132; s.paddingLeft = 0; s.paddingRight = 0; },
        ticks: {
          autoSkip: false, maxRotation: 0, padding: 8, color: '#000',
          font: {family: SERIF, size: 43},
          callback: (v, i) => xTickLabels[i]
        }
      },
      y: {
        type: 'logarithmic', min: 1e-6, max: 1e-2,
        grid: {display: false, drawTicks: false},
        border: {display: false},
        afterBuildTicks: s => { s.ticks = yMajorTicks.map(v => ({value: v})); },
        afterFit: s => { s.width = 188; s.paddingTop = 0; s.paddingBottom = 0; },
        ticks: {
          autoSkip: false, padding: 16, color: '#000',
          font: {family: SERIF, size: 43},
          callback: (v, i) => yTickLabels[i]
        }
      }
    }
  },
  plugins: [decor]
});
</script></body></html>
